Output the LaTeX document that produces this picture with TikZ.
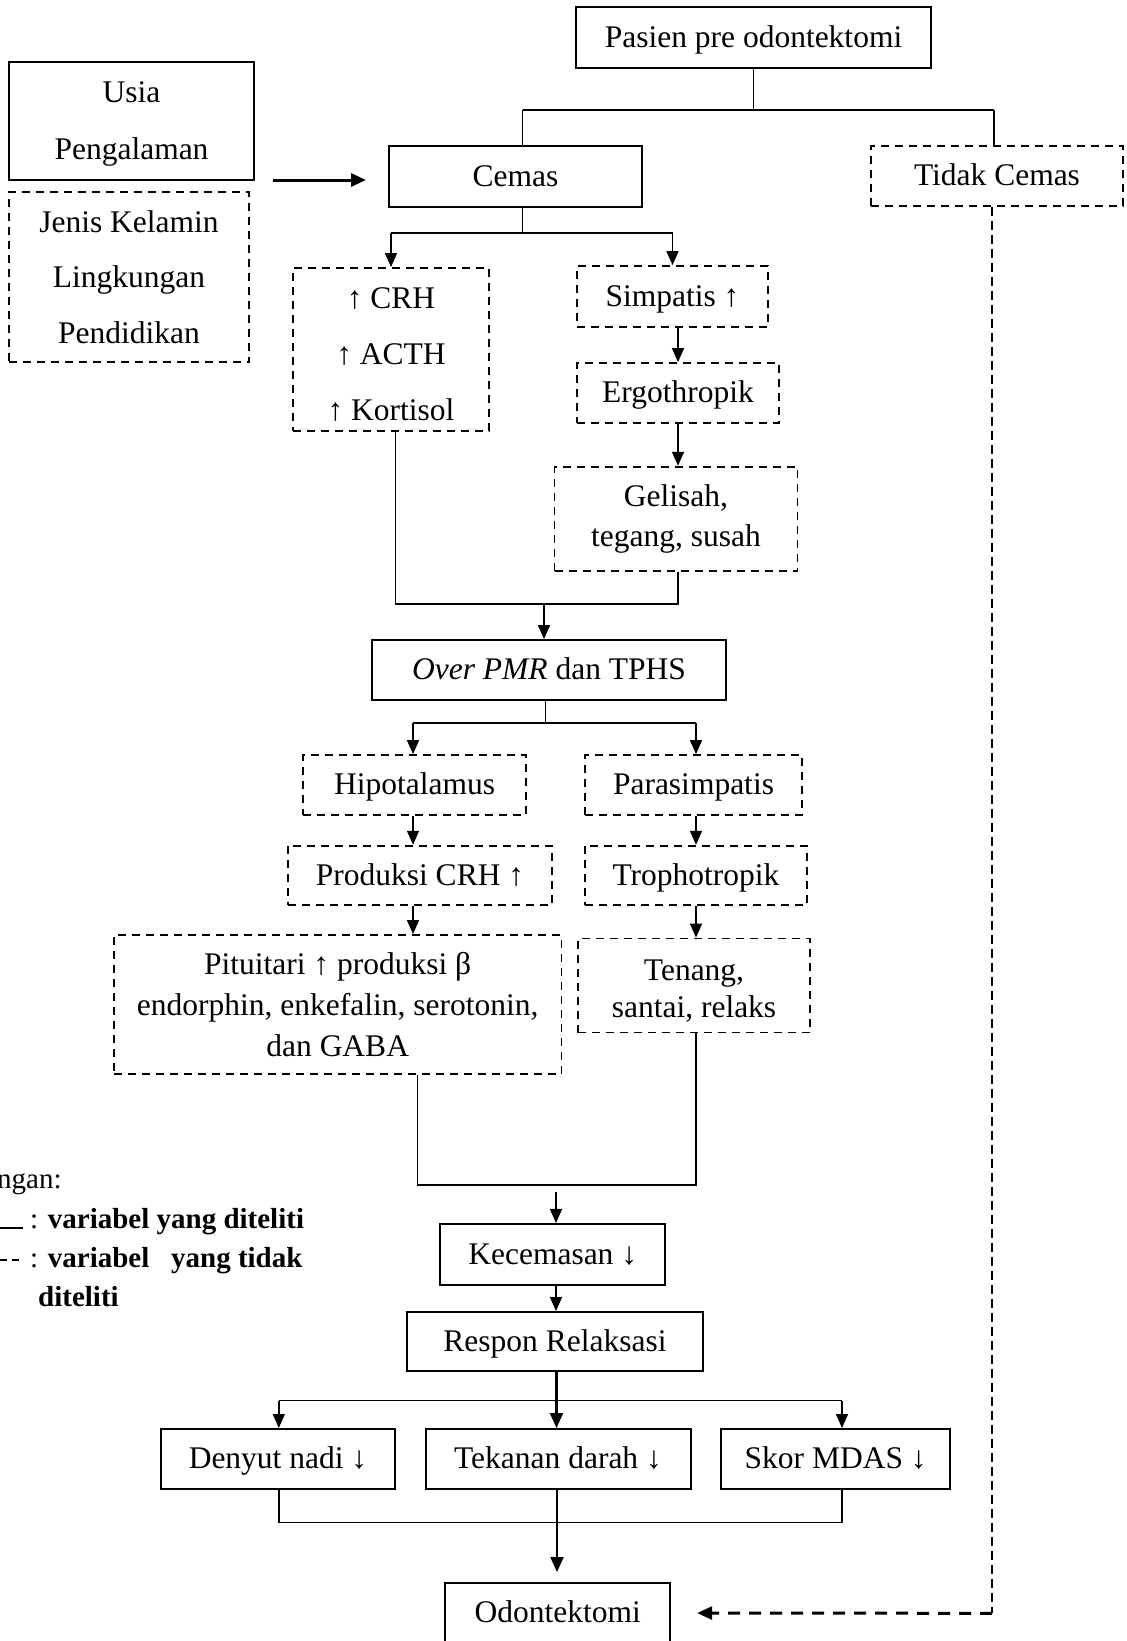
\documentclass[tikz,border=0pt]{standalone}
\usepackage{fontspec}
\setmainfont{Liberation Serif}
\usetikzlibrary{arrows.meta}
\tikzset{
  base/.style={inner sep=0pt, align=center, font=\fontsize{31.5}{38}\selectfont},
  sbox/.style={base, draw, line width=2pt},
  dbox/.style={base, draw, line width=1.8pt, dash pattern=on 8pt off 6pt},
  one/.style={text height=23.5pt, text depth=4pt},
  conn/.style={line width=1.5pt},
  arr/.style={line width=1.5pt, -{Triangle[length=14pt,width=12pt]}},
  bigarr/.style={line width=2.2pt, -{Triangle[length=15pt,width=13pt]}},
  dconn/.style={line width=1.2pt, dash pattern=on 9pt off 5pt},
  darr/.style={line width=3pt, dash pattern=on 12pt off 9pt, -{Triangle[length=15pt,width=13pt]}},
  leg/.style={anchor=base west, inner sep=0pt, font=\fontsize{29}{34}\selectfont},
}
\begin{document}
\begin{tikzpicture}[x=1pt, y=-1pt]
\useasboundingbox (0,0) rectangle (1127,1641);

% ---- nodes ----
\node[sbox, one, minimum width=355pt, minimum height=61pt] (pasien) at (753.5,37.5) {Pasien pre odontektomi};
\node[sbox, minimum width=245pt, minimum height=118pt, font=\fontsize{31.5}{57}\selectfont] (usia) at (131.5,121) {\rule{0pt}{27pt}Usia\\Pengalaman};
\node[dbox, minimum width=240.5pt, minimum height=170pt, font=\fontsize{31.5}{55.5}\selectfont] (jenis) at (129,277) {Jenis Kelamin\\Lingkungan\\Pendidikan};
\node[sbox, one, minimum width=253pt, minimum height=61pt] (cemas) at (515.5,176.5) {Cemas};
\node[dbox, one, minimum width=252pt, minimum height=60pt] (tidak) at (997,176) {Tidak Cemas};
\node[dbox, minimum width=196pt, minimum height=162.7pt, font=\fontsize{31.5}{56}\selectfont] (crh) at (391,349.3) {\rule{0pt}{32pt}↑ CRH\\↑ ACTH\\↑ Kortisol};
\node[dbox, one, minimum width=191pt, minimum height=61pt] (simpatis) at (672.5,296.5) {Simpatis ↑};
\node[dbox, one, minimum width=202pt, minimum height=60pt] (ergo) at (678,393) {Ergothropik};
\node[dbox, minimum width=243pt, minimum height=104pt, font=\fontsize{31.5}{40}\selectfont] (gelisah) at (676,518.7) {Gelisah,\\tegang, susah};
\node[sbox, one, minimum width=354pt, minimum height=60pt] (over) at (549,670) {\textit{Over PMR} dan TPHS};
\node[dbox, one, minimum width=223pt, minimum height=60pt] (hipo) at (414.5,785) {Hipotalamus};
\node[dbox, one, minimum width=217pt, minimum height=60pt] (para) at (693.5,785) {Parasimpatis};
\node[dbox, one, minimum width=264pt, minimum height=59.3pt] (produksi) at (420,875.3) {Produksi CRH ↑};
\node[dbox, one, minimum width=222pt, minimum height=59.3pt] (tropho) at (696,875.3) {Trophotropik};
\node[dbox, minimum width=447.5pt, minimum height=139pt, font=\fontsize{31.5}{41}\selectfont] (pitu) at (337.7,1004.5) {Pituitari ↑ produksi β\\endorphin, enkefalin, serotonin,\\dan GABA};
\node[dbox, minimum width=232pt, minimum height=94pt, font=\fontsize{31.5}{37}\selectfont] (tenang) at (694,985.5) {\rule{0pt}{31pt}Tenang,\\santai, relaks};
\node[sbox, one, minimum width=225.5pt, minimum height=61.5pt] (kecemasan) at (552.7,1254.7) {Kecemasan ↓};
\node[sbox, one, minimum width=296pt, minimum height=59pt] (respon) at (555,1341.5) {Respon Relaksasi};
\node[sbox, one, minimum width=234pt, minimum height=60pt] (denyut) at (278,1459) {Denyut nadi ↓};
\node[sbox, one, minimum width=265pt, minimum height=60pt] (tekanan) at (558,1459) {Tekanan darah ↓};
\node[sbox, one, minimum width=228.5pt, minimum height=60pt] (skor) at (835.7,1459) {Skor MDAS ↓};
\node[sbox, one, minimum width=225pt, minimum height=60pt] (odon) at (557.7,1613) {Odontektomi};

% ---- junction coordinates ----
\coordinate (j1m) at (753.5,110);
\coordinate (j1l) at (522.6,110);
\coordinate (j1r) at (994,110);
\coordinate (j2m) at (522.6,233);
\coordinate (j2l) at (391,233);
\coordinate (j2r) at (672.5,233);
\coordinate (j3l) at (395.7,604);
\coordinate (j3r) at (678,604);
\coordinate (j3m) at (544,604);
\coordinate (j4m) at (545.7,723);
\coordinate (j4l) at (413,723);
\coordinate (j4r) at (696,723);
\coordinate (j5l) at (417.6,1185);
\coordinate (j5r) at (696,1185);
\coordinate (j5m) at (556,1192);
\coordinate (j6m) at (556.5,1400.7);
\coordinate (j6l) at (278.8,1400.7);
\coordinate (j6r) at (842,1400.7);
\coordinate (j7m) at (557,1522.7);
\coordinate (j7l) at (278.8,1522.7);
\coordinate (j7r) at (842,1522.7);
\coordinate (j8) at (992,1613.3);
\coordinate (a0) at (273,180);

% ---- connectors ----
\draw[conn] (pasien.south) -- (j1m);
\draw[conn] (j1l) -- (j1r);
\draw[conn] (j1l) -- (j1l |- cemas.north);
\draw[conn] (j1r) -- (j1r |- tidak.north);

\draw[bigarr, line width=3pt] (a0) -- (cemas.west |- a0) [shorten >=22pt];

\draw[conn] (j2m |- cemas.south) -- (j2m);
\draw[conn] (j2l) -- (j2r);
\draw[arr] (j2l) -- (crh.north);
\draw[arr] (j2r) -- (simpatis.north);
\draw[arr] (ergo.north |- simpatis.south) -- (ergo.north);
\draw[arr] (ergo.south) -- (gelisah.north -| ergo.south);

\draw[conn] (j3l |- crh.south) -- (j3l) -- (j3r) -- (j3r |- gelisah.south);
\draw[arr] (j3m) -- (j3m |- over.north);

\draw[conn] (j4m |- over.south) -- (j4m);
\draw[conn] (j4l) -- (j4r);
\draw[arr] (j4l) -- (j4l |- hipo.north);
\draw[arr] (j4r) -- (j4r |- para.north);
\draw[arr] (j4l |- hipo.south) -- (j4l |- produksi.north);
\draw[arr] (j4r |- para.south) -- (j4r |- tropho.north);
\draw[arr] (j4l |- produksi.south) -- (j4l |- pitu.north);
\draw[arr] (j4r |- tropho.south) -- (j4r |- tenang.north);

\draw[conn] (j5l |- pitu.south) -- (j5l) -- (j5r) -- (j5r |- tenang.south);
\draw[arr] (j5m) -- (j5m |- kecemasan.north);
\draw[arr] (j5m |- kecemasan.south) -- (j5m |- respon.north);

\draw[bigarr] (j6m |- respon.south) -- (j6m |- tekanan.north);
\draw[conn] (j6l) -- (j6r);
\draw[arr] (j6l) -- (j6l |- denyut.north);
\draw[arr] (j6r) -- (j6r |- skor.north);

\draw[conn] (j7l |- denyut.south) -- (j7l) -- (j7r) -- (j7r |- skor.south);
\draw[conn] (j7m |- tekanan.south) -- (j7m);
\draw[bigarr, shorten >=10pt] (j7m) -- (j7m |- odon.north);

\draw[dconn] (j8 |- tidak.south) -- (j8);
\draw[darr, shorten >=26pt] (j8) -- (odon.east);

% ---- legend ----
\node[leg] (ket) at (-3,1188) {ngan:};
\coordinate (l1a) at (0,1228);
\coordinate (l1b) at (23,1228);
\draw[line width=2pt] (l1a) -- (l1b);
\node[leg] (lg1) at (30,1228) {: \textbf{variabel yang diteliti}};
\coordinate (l2a) at (0,1260);
\coordinate (l2b) at (22,1260);
\draw[line width=2pt, dash pattern=on 7pt off 5pt] (l2a) -- (l2b);
\node[leg] (lg2) at (30,1267) {: \textbf{variabel\ \ \ yang tidak}};
\node[leg] (lg3) at (38,1306) {\textbf{diteliti}};
\end{tikzpicture}
\end{document}
